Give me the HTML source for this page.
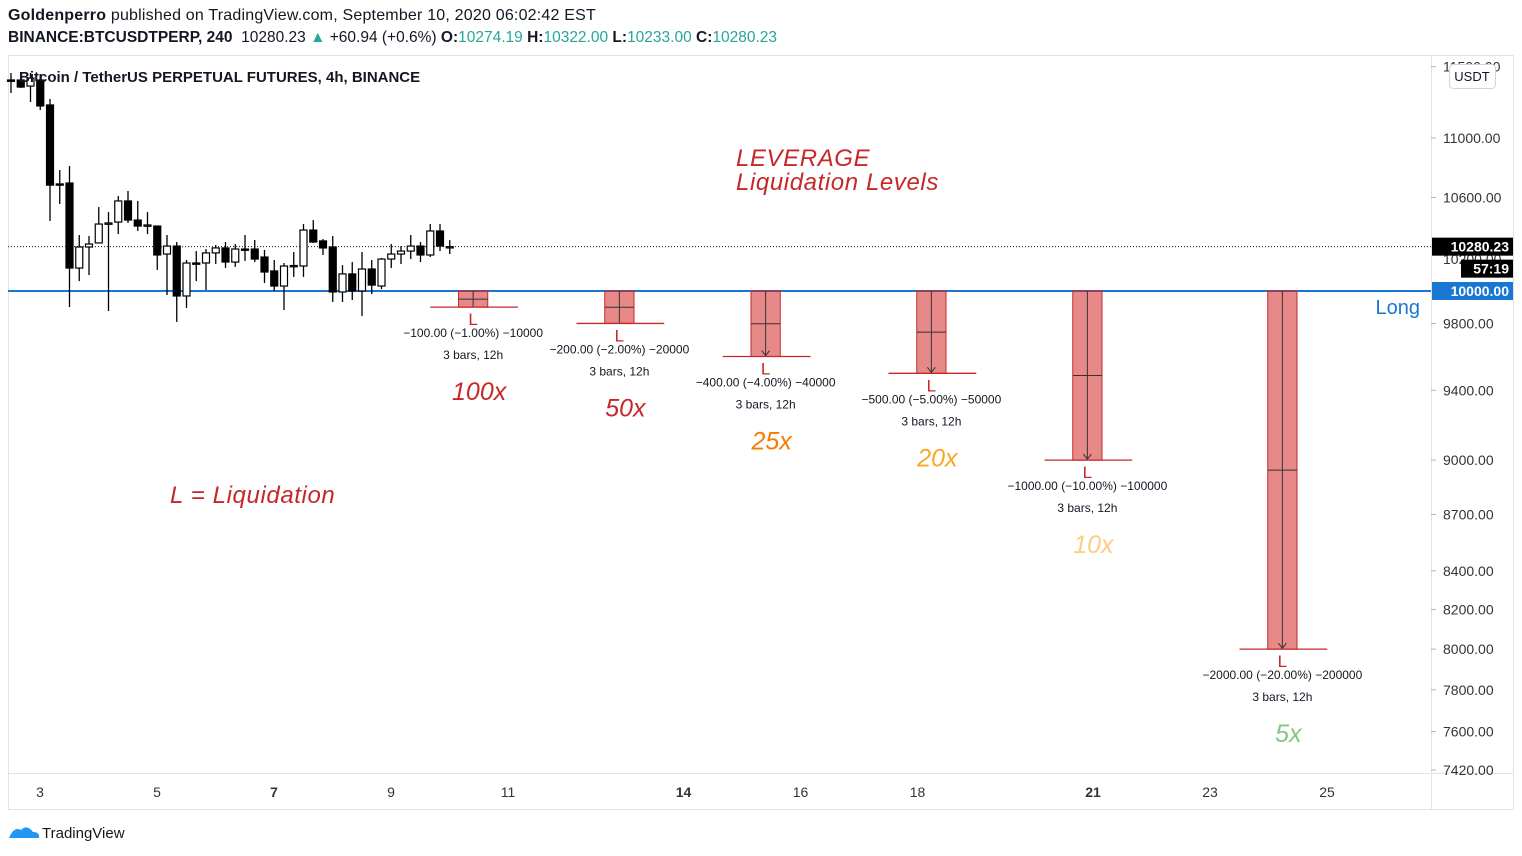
<!DOCTYPE html>
<html><head><meta charset="utf-8">
<style>
html,body{margin:0;padding:0;background:#fff;width:1522px;height:856px;overflow:hidden;font-family:"Liberation Sans",sans-serif;}
.hdr{position:absolute;left:8px;font-size:16px;color:#131722;white-space:nowrap;}
.t{color:#26a69a}
</style></head><body>
<div class="hdr" style="top:7px;letter-spacing:0.2px"><b>Goldenperro</b> published on TradingView.com, September 10, 2020 06:02:42 EST</div>
<div class="hdr" style="top:29px;font-size:15.5px"><b>BINANCE:BTCUSDTPERP, 240</b>&nbsp; 10280.23 <span class="t">▲</span> +60.94 (+0.6%) <b>O:</b><span class="t">10274.19</span> <b>H:</b><span class="t">10322.00</span> <b>L:</b><span class="t">10233.00</span> <b>C:</b><span class="t">10280.23</span></div>
<svg id="c" width="1522" height="856" style="position:absolute;left:0;top:0" font-family="Liberation Sans, sans-serif"></svg>
<script>
const opens=[11405,11405,11362,11405,11229,10690,10696,10144,10278,10304,10426,10439,10577,10452,10413,10413,10233,10284,9969,10176,10176,10240,10272,10182,10265,10265,10214,10126,10031,10157,10157,10387,10317,10278,9994,10107,10000,10138,10031,10201,10233,10252,10284,10227,10381,10274.19];
const highs=[11455,11405,11455,11448,11271,10783,10810,10355,10349,10537,10504,10610,10643,10577,10504,10413,10355,10310,10195,10252,10265,10291,10310,10297,10355,10323,10259,10195,10176,10246,10426,10452,10329,10349,10163,10182,10246,10195,10208,10297,10284,10355,10310,10426,10426,10322];
const lows=[11313,11348,11250,11194,10446,10557,9901,10062,10100,10304,9876,10361,10433,10381,10361,10132,9975,9809,9895,10062,10006,10170,10144,10151,10189,10182,10050,10000,9882,10088,10088,10304,10227,9932,9932,9944,9845,9981,10012,10144,10170,10201,10182,10214,10252,10233];
const closes=[11400,11355,11419,11222,10682,10686,10144,10278,10297,10426,10433,10577,10452,10413,10420,10227,10284,9969,10176,10170,10240,10272,10182,10265,10262,10201,10119,10031,10157,10160,10387,10310,10272,9994,10107,10000,10138,10037,10201,10233,10252,10284,10227,10381,10284,10280.23];
const priceTicks=[11500,11000,10600,9800,9400,9000,8700,8400,8200,8000,7800,7600,7420];
const dateTicks=[3,5,7,9,11,14,16,18,21,23,25];
const boldDates=[7,14,21];
const entry=10000;
const levLabels=["100x","50x","25x","20x","10x","5x"];
const levPct=[1,2,4,5,10,20];
const levStartBar=[46,61,76,93,109,129];
const levColors=["#c62828","#c62828","#f57c00","#f9a825","#ffcc80","#81c784"];

const svg=document.getElementById('c');
const NS='http://www.w3.org/2000/svg';
function yOf(p){return 291-1605*Math.log(p/10000);}
function xOf(i){return 11+9.75*i;}
function xDay(d){return 39+58.5*(d-3);}
function mk(tag,at,txt){const e=document.createElementNS(NS,tag);for(const k in at)e.setAttribute(k,at[k]);if(txt!==undefined)e.textContent=txt;svg.appendChild(e);return e;}

let e=mk('rect',{x:8.5,y:55.5,width:1505,height:754,fill:'none',stroke:'#e0e3eb'});


e=mk('line',{x1:1431.5,y1:55,x2:1431.5,y2:809,stroke:'#e0e3eb'});


e=mk('line',{x1:8,y1:773.5,x2:1513,y2:773.5,stroke:'#e0e3eb'});



priceTicks.forEach(p=>{const y=yOf(p);
 e=mk('line',{x1:1431,y1:y,x2:1436,y2:y,stroke:'#b2b5be'});
 
 
 e=mk('text',{x:1443,y:y+5,'font-size':14,fill:'#333'},p.toFixed(2));
 
 
});
e=mk('text',{x:1443,y:yOf(10200)+5,'font-size':14,fill:'#333'},'10200.00');



dateTicks.forEach(d=>{
 e=mk('text',{x:xDay(d)+1,y:797,'font-size':14,fill:'#333','text-anchor':'middle','font-weight':boldDates.includes(d)?'bold':'normal'},String(d));
 
 
});

const last=closes[closes.length-1];
e=mk('line',{x1:8,y1:yOf(last),x2:1431,y2:yOf(last),stroke:'#131722','stroke-dasharray':'1 2'});



e=mk('line',{x1:8,y1:yOf(entry),x2:1431,y2:yOf(entry),stroke:'#1976d2','stroke-width':2});


e=mk('text',{x:1420,y:yOf(entry)+23,'font-size':20,fill:'#1976d2','text-anchor':'end'},'Long');



for(let i=0;i<opens.length;i++){
 const x=xOf(i),o=opens[i],c=closes[i],up=c>=o;
 e=mk('line',{x1:x,y1:yOf(highs[i]),x2:x,y2:yOf(lows[i]),stroke:'#000','stroke-width':1.3});
 
 
 const t=yOf(Math.max(o,c)),b=yOf(Math.min(o,c));
 e=mk('rect',{x:x-3.5,y:t,width:7,height:Math.max(b-t,1.3),fill:up?'#fff':'#000',stroke:'#000','stroke-width':1.2});
 
 
}

levLabels.forEach((lab,k)=>{
 const b=levStartBar[k];
 const x0=xOf(b)-1,x1=xOf(b+3)-1,cx=(x0+x1)/2;
 const stop=entry*(1-levPct[k]/100);
 const yt=yOf(entry),yb=yOf(stop);
 e=mk('rect',{x:x0,y:yt,width:x1-x0,height:yb-yt,fill:'rgba(213,40,40,0.55)',stroke:'#c62828'});
 
 
 e=mk('line',{x1:x0,y1:(yt+yb)/2,x2:x1,y2:(yt+yb)/2,stroke:'#333'});
 
 
 e=mk('line',{x1:cx,y1:yt,x2:cx,y2:yb,stroke:'#333'});
 
 
 if(yb-yt>40){e=mk('path',{d:`M${cx-4},${yb-6} L${cx},${yb-1} L${cx+4},${yb-6}`,fill:'none',stroke:'#333'});
 
 }
 e=mk('line',{x1:xOf(b-3),y1:yb,x2:xOf(b+6),y2:yb,stroke:'#c62828','stroke-width':1.3});
 
 
 e=mk('text',{x:cx,y:yb+18,'font-size':17,fill:'#c62828','text-anchor':'middle'},'L');
 
 
 const diff=entry-stop;
 e=mk('text',{x:cx,y:yb+30,'font-size':12,fill:'#131722','text-anchor':'middle'},`\u2212${diff.toFixed(2)} (\u2212${levPct[k].toFixed(2)}%) \u2212${diff*100}`);
 
 
 e=mk('text',{x:cx,y:yb+52,'font-size':12,fill:'#131722','text-anchor':'middle'},'3 bars, 12h');
 
 
 e=mk('text',{x:cx+6,y:yb+93,'font-size':25,'font-style':'italic',fill:levColors[k],'text-anchor':'middle'},lab);
 
 
});

e=mk('text',{x:736,y:166,'font-size':24,'font-style':'italic',fill:'#c62828','letter-spacing':0.6},'LEVERAGE');


e=mk('text',{x:736,y:190,'font-size':24,'font-style':'italic',fill:'#c62828','letter-spacing':0.6},'Liquidation Levels');


e=mk('text',{x:170,y:503,'font-size':24,'font-style':'italic',fill:'#c62828','letter-spacing':0.6},'L = Liquidation');


e=mk('text',{x:19,y:82,'font-size':15,'font-weight':'bold',fill:'#131722'},'Bitcoin / TetherUS PERPETUAL FUTURES, 4h, BINANCE');



function plabel(y,txt,bg,name,x,w){
 e=mk('rect',{x:x,y:y-9,width:w,height:18,fill:bg});
 
 
 e=mk('text',{x:x+w-4,y:y+5,'font-size':14,'font-weight':'bold',fill:'#fff','text-anchor':'end'},txt);
 
 
}
plabel(yOf(last),last.toFixed(2),'#000','last-price-label',1432,81);
plabel(yOf(last)+22,'57:19','#000','countdown-label',1461,52);
plabel(yOf(entry),entry.toFixed(2),'#1976d2','entry-price-label',1432,81);

e=mk('rect',{x:1449.5,y:64.5,width:46,height:24,rx:4,fill:'#fff',stroke:'#d1d4dc'});


e=mk('text',{x:1472,y:81,'font-size':13,fill:'#131722','text-anchor':'middle'},'USDT');



e=mk('path',{d:'M9,838 Q14,826 21,830 Q27,824 33,832 Q40,832 39,838 Z',fill:'#2196f3'});


e=mk('text',{x:42,y:838,'font-size':15,fill:'#131722'},'TradingView');


</script>
</body></html>
